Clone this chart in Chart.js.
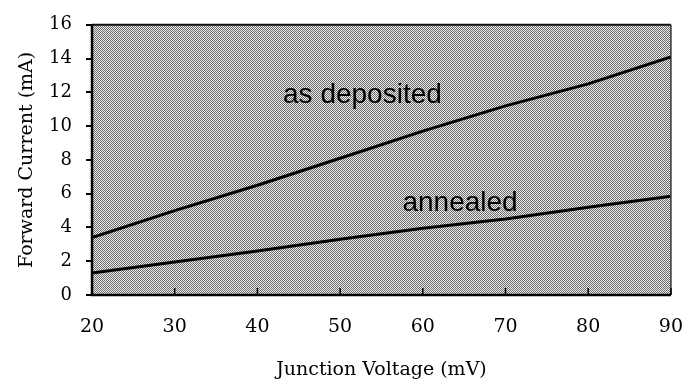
<!DOCTYPE html>
<html>
<head>
<meta charset="utf-8">
<script src="https://cdn.jsdelivr.net/npm/chart.js@4"></script>
<style>
html,body{margin:0;padding:0;background:#fff;}
#wrap{width:683px;height:383px;position:relative;}
</style>
</head>
<body>
<div id="wrap"><canvas id="c"></canvas></div>
<script>
// ---- data ----
const voltages = [20, 30, 40, 50, 60, 70, 80, 90];
const asDeposited = [3.4, 5.0, 6.5, 8.1, 9.7, 11.2, 12.5, 14.1];
const annealed = [1.3, 1.95, 2.6, 3.3, 3.95, 4.5, 5.2, 5.85];
const xTicks = [20, 30, 40, 50, 60, 70, 80, 90];
const yTicks = [0, 2, 4, 6, 8, 10, 12, 14, 16];
const seriesLabels = ["as deposited", "annealed"];
const labelPos = [{x: 52.7, y: 11.35}, {x: 64.5, y: 5.0}];

function pts(ys){ return voltages.map((v,i)=>({x:v, y:ys[i]})); }

// dithered gray background pattern
function makePattern(ctx){
  const p = document.createElement('canvas');
  p.width = 2; p.height = 2;
  const g = p.getContext('2d');
  g.fillStyle = '#ececec'; g.fillRect(0,0,2,2);
  g.fillStyle = '#6c6c6c'; g.fillRect(0,0,1,1); g.fillRect(1,1,1,1);
  return ctx.createPattern(p, 'repeat');
}

const plotDeco = {
  id: 'plotDeco',
  beforeDatasetsDraw(chart){
    const {ctx, chartArea:a} = chart;
    ctx.save();
    ctx.fillStyle = makePattern(ctx);
    ctx.fillRect(a.left, a.top, a.right-a.left, a.bottom-a.top);
    ctx.restore();
  },
  afterDatasetsDraw(chart){
    const {ctx, chartArea:a, scales} = chart;
    ctx.save();
    // borders
    ctx.strokeStyle = '#111';
    ctx.lineWidth = 2;
    ctx.beginPath(); ctx.moveTo(a.left, a.top); ctx.lineTo(a.right, a.top); ctx.stroke();
    ctx.lineWidth = 1.5; ctx.strokeStyle = '#333';
    ctx.beginPath(); ctx.moveTo(a.right, a.top); ctx.lineTo(a.right, a.bottom); ctx.stroke();
    ctx.lineWidth = 2.5; ctx.strokeStyle = '#000';
    ctx.beginPath(); ctx.moveTo(a.left, a.top); ctx.lineTo(a.left, a.bottom); ctx.lineTo(a.right, a.bottom); ctx.stroke();
    // inside x ticks
    ctx.lineWidth = 1.5;
    xTicks.forEach(v=>{
      const px = scales.x.getPixelForValue(v);
      ctx.beginPath(); ctx.moveTo(px, a.bottom); ctx.lineTo(px, a.bottom-7); ctx.stroke();
    });
    // series labels
    ctx.fillStyle = '#000';
    ctx.font = "28px 'Liberation Sans', Arial, sans-serif";
    ctx.textAlign = 'center';
    ctx.textBaseline = 'alphabetic';
    seriesLabels.forEach((t,i)=>{
      ctx.fillText(t, scales.x.getPixelForValue(labelPos[i].x), scales.y.getPixelForValue(labelPos[i].y));
    });
    ctx.restore();
  }
};

new Chart(document.getElementById('c'), {
  type: 'line',
  data: {
    datasets: [
      {label: seriesLabels[0], data: pts(asDeposited), borderColor:'#000', borderWidth:3, pointRadius:0, tension:0, fill:false},
      {label: seriesLabels[1], data: pts(annealed), borderColor:'#000', borderWidth:3, pointRadius:0, tension:0, fill:false}
    ]
  },
  options: {
    responsive: true,
    maintainAspectRatio: false,
    animation: false,
    devicePixelRatio: 1,
    layout: {padding: {left:0, right:10, top:16, bottom:0}},
    plugins: {legend:{display:false}, tooltip:{enabled:false}},
    scales: {
      x: {
        type: 'linear', min: 20, max: 90,
        afterFit(s){ s.height = 88; },
        afterBuildTicks(s){ s.ticks = xTicks.map(v=>({value:v})); },
        grid: {display:true, drawOnChartArea:false, drawTicks:true, tickLength:21, tickColor:'rgba(0,0,0,0)', color:'rgba(0,0,0,0)'},
        border: {display:false},
        ticks: {color:'#000', padding:0, maxRotation:0, font:{family:"'DejaVu Serif', serif", size:19}},
        title: {display:true, text:'Junction Voltage (mV)', color:'#000', padding:{top:0,bottom:2}, font:{family:"'DejaVu Serif', serif", size:19}}
      },
      y: {
        type: 'linear', min: 0, max: 16,
        afterFit(s){ s.width = 92; },
        afterBuildTicks(s){ s.ticks = yTicks.map(v=>({value:v})); },
        grid: {display:true, drawOnChartArea:false, drawTicks:true, tickLength:6, color:'#000', lineWidth:2},
        border: {display:false},
        ticks: {color:'#000', padding:14, font:{family:"'DejaVu Serif', serif", size:18}},
        title: {display:true, text:'Forward Current (mA)', color:'#000', padding:{top:16,bottom:0}, font:{family:"'DejaVu Serif', serif", size:19}}
      }
    }
  },
  plugins: [plotDeco]
});
</script>
</body>
</html>
